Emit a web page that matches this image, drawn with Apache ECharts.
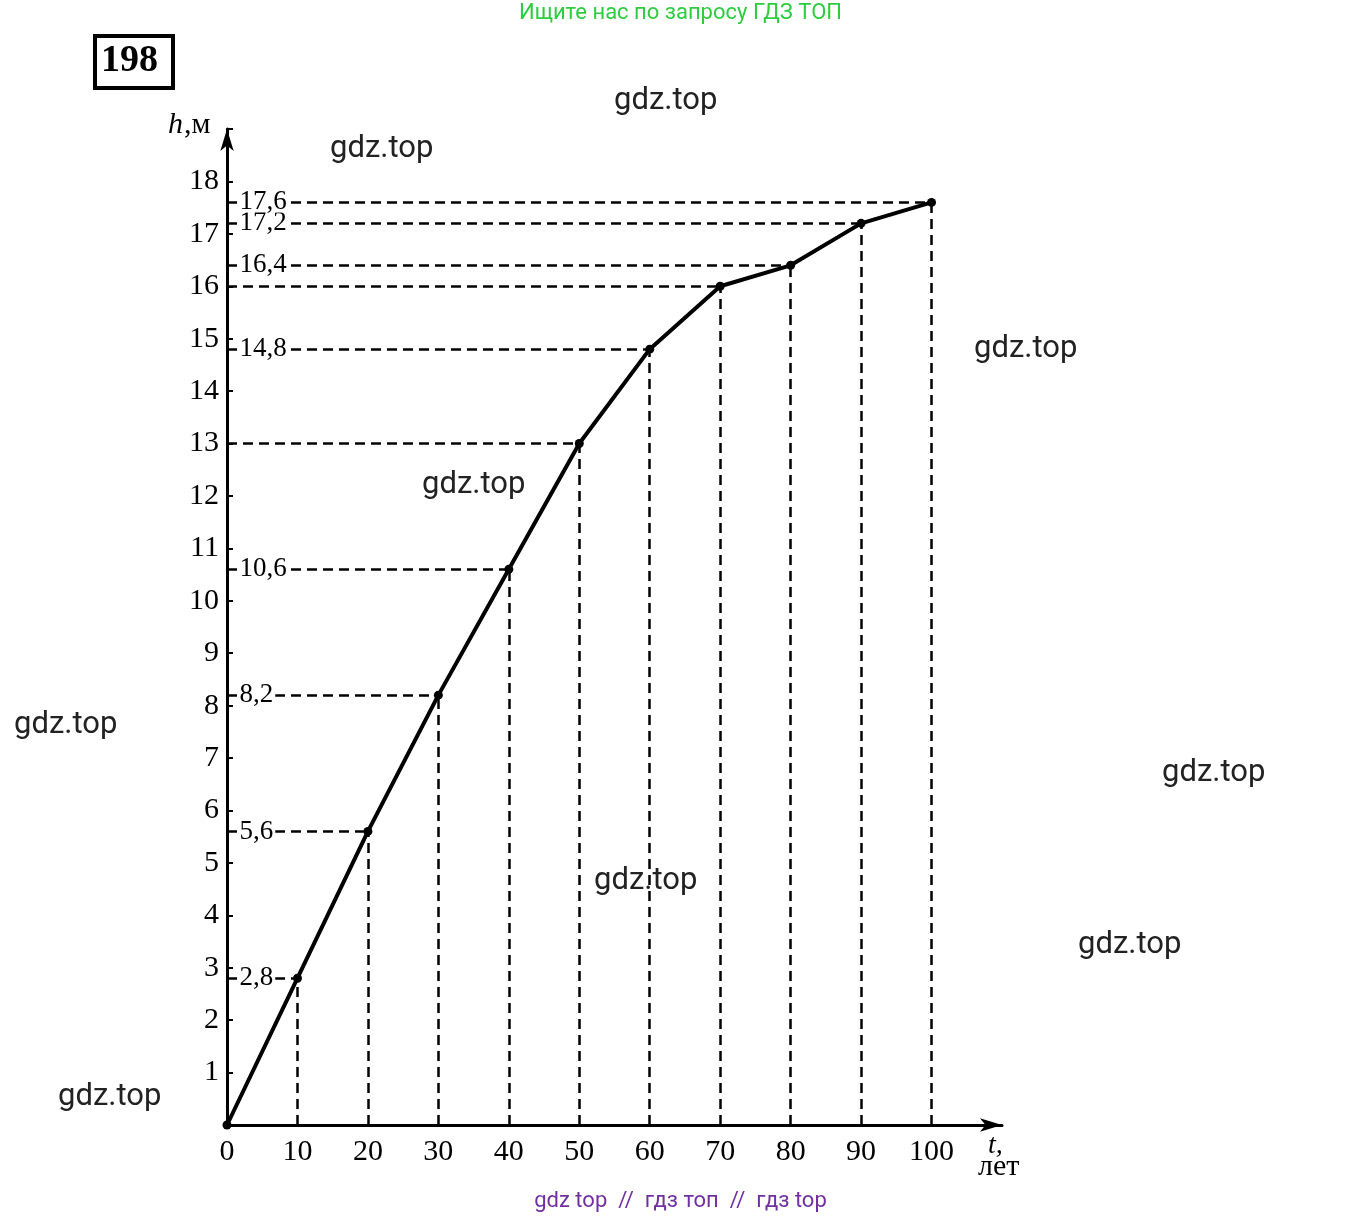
<!DOCTYPE html>
<html>
<head>
<meta charset="utf-8">
<script src="https://cdn.jsdelivr.net/npm/echarts@6/dist/echarts.min.js"></script>
<style>html,body{margin:0;padding:0;background:#fff}#c{width:1361px;height:1221px}</style>
</head>
<body>
<div id="c"></div>
<script>
// data
let years = [0, 10, 20, 30, 40, 50, 60, 70, 80, 90, 100];
let heights = [0, 2.8, 5.6, 8.2, 10.6, 13, 14.8, 16, 16.4, 17.2, 17.6];
let yTicks = [1, 2, 3, 4, 5, 6, 7, 8, 9, 10, 11, 12, 13, 14, 15, 16, 17, 18];
let xTicks = [0, 10, 20, 30, 40, 50, 60, 70, 80, 90, 100];
let marks = ['gdz.top', 'gdz.top', 'gdz.top', 'gdz.top', 'gdz.top', 'gdz.top', 'gdz.top', 'gdz.top', 'gdz.top'];
let markPos = [[614, 86], [330, 134], [974, 334], [422, 470], [14, 710], [1162, 758], [594, 866], [1078, 930], [58, 1082]];

let myChart = echarts.init(document.getElementById('c'));
let serif = 'Liberation Serif';
let pts = years.map((t, i) => [t, heights[i]]);

// dashed guide lines from each point to both axes
let guides = [];
pts.slice(1).forEach(p => {
    guides.push([{coord: [0, p[1]]}, {coord: p}]);
    guides.push([{coord: [p[0], 0]}, {coord: p}]);
});

// decimal labels near the y axis
let decLabels = pts.filter(p => p[1] % 1 !== 0).map(p => [0, p[1]]);

let option = {
    backgroundColor: '#fff',
    animation: false,
    grid: {left: 227, right: 359, top: 129, bottom: 96},
    xAxis: {
        type: 'value', min: 0, max: 110, interval: 10,
        axisLine: {lineStyle: {color: '#000', width: 3}, symbol: ['none', 'arrow'], symbolSize: [10, 22]},
        axisTick: {show: false},
        splitLine: {show: false},
        axisLabel: {
            color: '#000', fontFamily: serif, fontSize: 30, margin: 12,
            formatter: v => xTicks.indexOf(v) >= 0 ? String(v) : ''
        }
    },
    yAxis: {
        type: 'value', min: 0, max: 19, interval: 1,
        axisLine: {lineStyle: {color: '#000', width: 3}, symbol: ['none', 'arrow'], symbolSize: [10, 22]},
        axisTick: {show: true, length: 6, inside: true, lineStyle: {color: '#000', width: 2}},
        splitLine: {show: false},
        axisLabel: {
            color: '#000', fontFamily: serif, fontSize: 30, margin: 8,
            formatter: v => yTicks.indexOf(v) >= 0 ? String(v) : ''
        }
    },
    series: [{
        type: 'line',
        data: pts,
        symbol: 'circle', symbolSize: 9,
        itemStyle: {color: '#000'},
        lineStyle: {color: '#000', width: 4},
        markLine: {
            silent: true, symbol: 'none', label: {show: false},
            lineStyle: {color: '#000', type: [10, 6], width: 2.5, opacity: 1},
            data: guides
        }
    }, {
        type: 'scatter',
        data: decLabels,
        symbolSize: 1,
        itemStyle: {color: '#fff', opacity: 0},
        zlevel: 1,
        labelLayout: {hideOverlap: false},
        label: {
            show: true, position: 'right', distance: 10,
            color: '#000', opacity: 1, fontFamily: serif, fontSize: 27,
            lineHeight: 20,
            backgroundColor: '#fff', padding: [0, 2],
            formatter: p => String(p.value[1]).replace('.', ',')
        }
    }],
    graphic: [
        {type: 'text', left: 'center', top: 2, style: {text: 'Ищите нас по запросу ГДЗ ТОП', fill: '#2ecc40', font: '22px Roboto'}},
        {type: 'text', left: 'center', top: 1190, style: {text: 'gdz top  //  гдз топ  //  гдз top', fill: '#7030a0', font: '22px Roboto'}},
        {type: 'rect', shape: {x: 95, y: 36, width: 78, height: 52}, style: {fill: '#fff', stroke: '#000', lineWidth: 4}},
        {type: 'text', x: 101, y: 42, style: {text: '198', fill: '#000', font: 'bold 38px "Liberation Serif"'}},
        {type: 'text', x: 168, y: 110, style: {text: 'h', fill: '#000', font: 'italic 30px "Liberation Serif"'}},
        {type: 'text', x: 184, y: 110, style: {text: ',м', fill: '#000', font: '30px "Liberation Serif"'}},
        {type: 'text', x: 988, y: 1132, style: {text: 't,', fill: '#000', font: 'italic 28px "Liberation Serif"'}},
        {type: 'text', x: 978, y: 1152, style: {text: 'лет', fill: '#000', font: '30px "Liberation Serif"'}}
    ].concat(marks.map((m, i) => ({
        type: 'text', x: markPos[i][0], y: markPos[i][1],
        style: {text: m, fill: '#222', font: '31px Roboto'}
    })))
};

myChart.setOption(option);
</script>
</body>
</html>
